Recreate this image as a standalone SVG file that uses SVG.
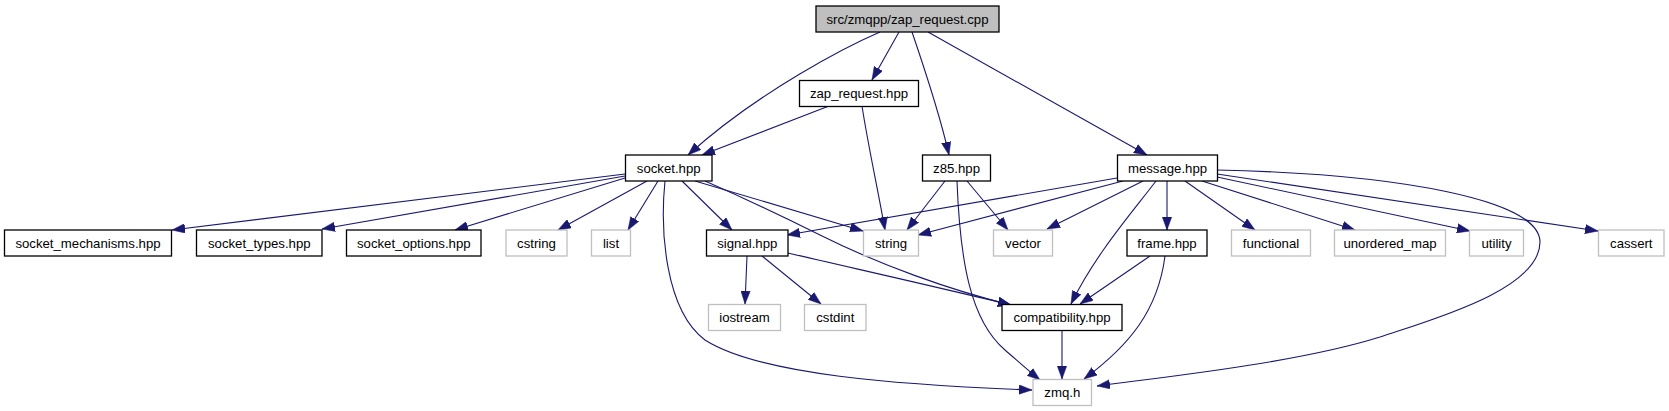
<svg xmlns="http://www.w3.org/2000/svg" width="1669" height="411" viewBox="0 0 1669 411">
<style>
.n rect{fill:#ffffff;stroke:#000000;stroke-width:1.3}
.g rect{fill:#ffffff;stroke:#bfbfbf;stroke-width:1.3}
.root rect{fill:#bfbfbf;stroke:#000000;stroke-width:1.3}
text{font-family:"Liberation Sans",Arial,sans-serif;font-size:13.2px;fill:#000;text-anchor:middle}
#edges path{fill:none;stroke:#191970;stroke-width:1.1;marker-end:url(#ah)}
</style>
<defs>
<marker id="ah" markerUnits="userSpaceOnUse" markerWidth="13" markerHeight="10" refX="13" refY="5" orient="auto">
<path d="M0,0.3 L13,5 L0,9.7 z" fill="#191970" stroke="#191970" stroke-width="0.5"/>
</marker>
</defs>
<rect width="1669" height="411" fill="#ffffff"/>
<g id="edges">
<path d="M880,32 C850,45 760,90 688,155"/>
<path d="M899,32 L872,80"/>
<path d="M912,32 C925,70 940,115 949,155"/>
<path d="M928,32 L1147,155"/>
<path d="M829,106 L702,155"/>
<path d="M862,106 C868,145 878,190 885,230"/>
<path d="M625,174 L172,230"/>
<path d="M625,176 L322,229"/>
<path d="M625,178 L455,230"/>
<path d="M647,181 L558,230"/>
<path d="M658,181 L628,230"/>
<path d="M682,181 L732,230"/>
<path d="M695,181 L863,231"/>
<path d="M705,181 C760,205 790,220 820,235 C880,265 950,290 1011,305"/>
<path d="M665,181 C660,230 665,310 705,340 C760,375 900,385 1032,390"/>
<path d="M945,181 L907,230"/>
<path d="M967,181 L1008,230"/>
<path d="M957,181 C960,260 970,320 1005,350 C1020,363 1030,372 1040,380"/>
<path d="M747,256 L745,304"/>
<path d="M762,256 L821,304"/>
<path d="M788,253 C870,272 950,290 1011,305"/>
<path d="M1062,331 L1062,379"/>
<path d="M1117,178 L787,235"/>
<path d="M1123,181 L918,235"/>
<path d="M1143,181 L1047,229"/>
<path d="M1156,181 C1130,215 1095,255 1071,304"/>
<path d="M1167,181 L1167,230"/>
<path d="M1185,181 L1255,230"/>
<path d="M1202,181 L1355,230"/>
<path d="M1217,177 L1470,231"/>
<path d="M1217,174 L1598,231"/>
<path d="M1217,170 C1400,174 1540,200 1540,242 C1540,290 1430,320 1380,337 C1300,362 1180,375 1097,386"/>
<path d="M1150,256 L1080,304"/>
<path d="M1165,256 C1158,310 1130,345 1084,379"/>
</g>
<g id="node-cpp" class="root"><rect x="816" y="6" width="183" height="26"/><text x="907.5" y="23.5">src/zmqpp/zap_request.cpp</text></g>
<g id="node-zap_request_hpp" class="n"><rect x="799.5" y="80.5" width="119" height="26"/><text x="859" y="98">zap_request.hpp</text></g>
<g id="node-socket_hpp" class="n"><rect x="625.5" y="155" width="86.5" height="26"/><text x="668.7" y="172.5">socket.hpp</text></g>
<g id="node-z85_hpp" class="n"><rect x="922.5" y="155" width="68" height="26"/><text x="956.5" y="172.5">z85.hpp</text></g>
<g id="node-message_hpp" class="n"><rect x="1117.5" y="155" width="100" height="26"/><text x="1167.5" y="172.5">message.hpp</text></g>
<g id="node-socket_mechanisms" class="n"><rect x="4.5" y="230" width="167" height="26"/><text x="88" y="247.5">socket_mechanisms.hpp</text></g>
<g id="node-socket_types" class="n"><rect x="196.5" y="230" width="125.5" height="26"/><text x="259.3" y="247.5">socket_types.hpp</text></g>
<g id="node-socket_options" class="n"><rect x="346.5" y="230" width="134.5" height="26"/><text x="413.8" y="247.5">socket_options.hpp</text></g>
<g id="node-cstring" class="g"><rect x="506" y="230" width="61" height="26"/><text x="536.5" y="247.5">cstring</text></g>
<g id="node-list" class="g"><rect x="591.5" y="230" width="39" height="26"/><text x="611" y="247.5">list</text></g>
<g id="node-signal_hpp" class="n"><rect x="706.5" y="230" width="81.5" height="26"/><text x="747.3" y="247.5">signal.hpp</text></g>
<g id="node-string" class="g"><rect x="863.5" y="230" width="55" height="26"/><text x="891" y="247.5">string</text></g>
<g id="node-vector" class="g"><rect x="993.5" y="230" width="59" height="26"/><text x="1023" y="247.5">vector</text></g>
<g id="node-frame_hpp" class="n"><rect x="1127" y="230" width="80" height="26"/><text x="1167" y="247.5">frame.hpp</text></g>
<g id="node-functional" class="g"><rect x="1231.5" y="230" width="79" height="26"/><text x="1271" y="247.5">functional</text></g>
<g id="node-unordered_map" class="g"><rect x="1334.5" y="230" width="111" height="26"/><text x="1390" y="247.5">unordered_map</text></g>
<g id="node-utility" class="g"><rect x="1469.5" y="230" width="54" height="26"/><text x="1496.5" y="247.5">utility</text></g>
<g id="node-cassert" class="g"><rect x="1598.5" y="230" width="65.5" height="26"/><text x="1631.3" y="247.5">cassert</text></g>
<g id="node-iostream" class="g"><rect x="708.5" y="304.5" width="72" height="26"/><text x="744.5" y="322">iostream</text></g>
<g id="node-cstdint" class="g"><rect x="804.5" y="304.5" width="61.5" height="26"/><text x="835.3" y="322">cstdint</text></g>
<g id="node-compatibility_hpp" class="n"><rect x="1002" y="304.5" width="120" height="26"/><text x="1062" y="322">compatibility.hpp</text></g>
<g id="node-zmq_h" class="g"><rect x="1033" y="379.5" width="58.5" height="26"/><text x="1062.3" y="397">zmq.h</text></g>
</svg>
